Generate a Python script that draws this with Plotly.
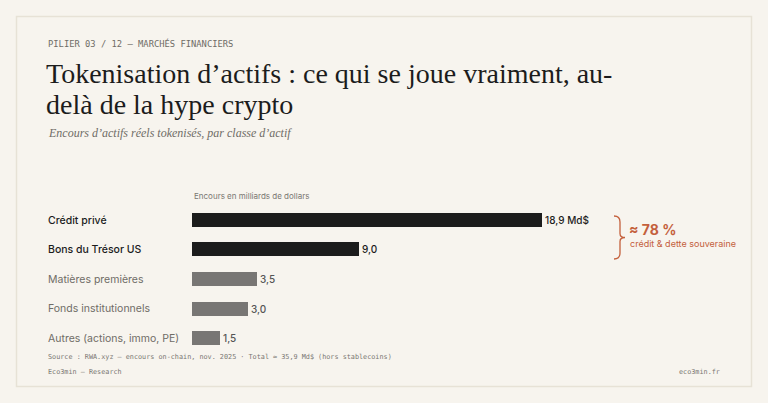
import plotly.graph_objects as go

categories = ["Crédit privé", "Bons du Trésor US", "Matières premières", "Fonds institutionnels", "Autres (actions, immo, PE)"]
values = [18.9, 9.0, 3.5, 3.0, 1.5]
highlight = [True, True, False, False, False]

W, H = 768, 403
def px(x): return x / W
def py(y): return 1 - y / H

bar_colors = ["#1c1c1c" if h else "#787674" for h in highlight]
texts = []
for i, v in enumerate(values):
    s = f"{v:.1f}".replace(".", ",")
    texts.append(s + " Md$" if i == 0 else s)
text_colors = ["#1c1c1c" if h else "#555" for h in highlight]

fig = go.Figure(go.Bar(
    x=values, y=list(range(len(values))), orientation="h",
    marker=dict(color=bar_colors, line=dict(width=0)), width=0.47,
    text=texts, textposition="outside", cliponaxis=False,
    textfont=dict(family="Inter", size=10, color=text_colors, weight=500),
    hoverinfo="skip",
))
fig.update_layout(
    width=W, height=H, margin=dict(l=0, r=0, t=0, b=0),
    paper_bgcolor="#f7f4ee", plot_bgcolor="rgba(0,0,0,0)", showlegend=False,
    bargap=0,
    xaxis=dict(domain=[px(192), px(542)], range=[0, 18.9], visible=False, fixedrange=True),
    yaxis=dict(domain=[py(353), py(205)], range=[4.5, -0.5], visible=False, fixedrange=True),
)
shapes = [dict(type="rect", xref="paper", yref="paper", x0=px(16.5), x1=px(751.5), y0=py(16.5), y1=py(386.5),
               line=dict(color="#e7e2d6", width=1.5), fillcolor="rgba(0,0,0,0)", layer="below")]
bx, y0, y1, ym = 614, 216, 259, 237.5
path = (f"M {px(bx)},{py(y0)} Q {px(bx+6)},{py(y0)} {px(bx+6)},{py(y0+6)} "
        f"L {px(bx+6)},{py(ym-4)} Q {px(bx+6)},{py(ym)} {px(bx+11)},{py(ym)} "
        f"Q {px(bx+6)},{py(ym)} {px(bx+6)},{py(ym+4)} "
        f"L {px(bx+6)},{py(y1-6)} Q {px(bx+6)},{py(y1)} {px(bx)},{py(y1)}")
shapes.append(dict(type="path", xref="paper", yref="paper", path=path, line=dict(color="#c4603c", width=1.3)))
fig.update_layout(shapes=shapes)

ann = []
def A(x, y, t, size, color, family="Inter", xanchor="left", yanchor="middle", weight=None):
    f = dict(size=size, color=color, family=family)
    if weight: f["weight"] = weight
    ann.append(dict(x=px(x), y=py(y), xref="paper", yref="paper", text=t, showarrow=False,
                    xanchor=xanchor, yanchor=yanchor, font=f))

A(46, 43, "PILIER 03 / 12 — MARCHÉS FINANCIERS", 8.8, "#6f6c66", "DejaVu Sans Mono")
A(44, 74, "Tokenisation d’actifs : ce qui se joue vraiment, au-", 28, "#1c1c1c", "Liberation Serif")
A(44, 104, "delà de la hype crypto", 28, "#1c1c1c", "Liberation Serif")
A(46, 133, "<i>Encours d’actifs réels tokenisés, par classe d’actif</i>", 12, "#6f6c66", "Liberation Serif")
A(192, 196, "Encours en milliards de dollars", 8, "#7a7772")
for i, c in enumerate(categories):
    A(46, 220 + i * 29.6, c, 10.5, "#1c1c1c" if highlight[i] else "#6f6c66", weight=500 if highlight[i] else None)
A(627, 229, "<b>≈ 78 %</b>", 14, "#c4603c")
A(628, 243, "crédit & dette souveraine", 9, "#c4603c")
A(46, 357, "Source : RWA.xyz — encours on-chain, nov. 2025 · Total ≈ 35,9 Md$ (hors stablecoins)", 6.8, "#7a7772", "DejaVu Sans Mono")
A(46, 372, "Eco3min — Research", 6.8, "#7a7772", "DejaVu Sans Mono")
A(722, 372, "eco3min.fr", 6.8, "#7a7772", "DejaVu Sans Mono", xanchor="right")
fig.update_layout(annotations=ann)
fig.write_html("out.html", config={"displayModeBar": False})
with open("out.html", encoding="utf-8") as f:
    html = f.read()
html = html.replace("<head>", "<head><style>html,body{margin:0;padding:0;background:#f7f4ee;overflow:hidden}</style>", 1)
with open("out.html", "w", encoding="utf-8") as f:
    f.write(html)
